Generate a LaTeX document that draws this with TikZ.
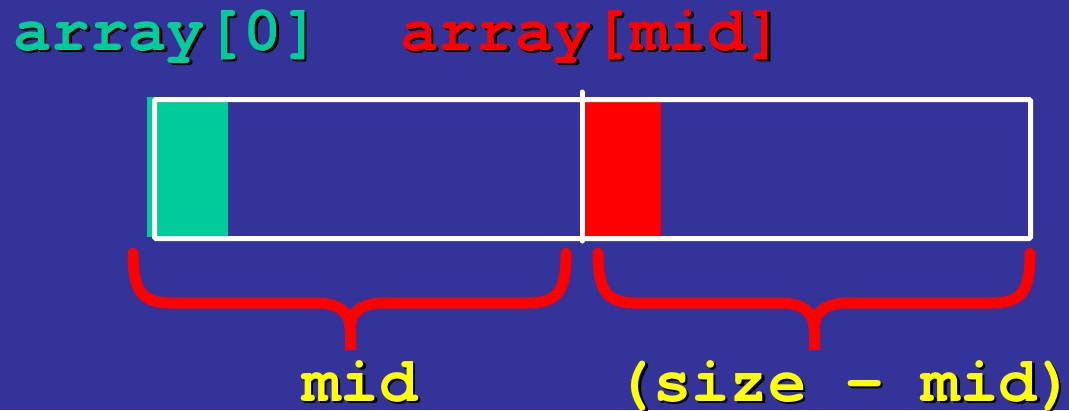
\documentclass[tikz,border=0pt]{standalone}
\usepackage{fontspec}
\newfontfamily\cursorfont{TeX Gyre Cursor}
\usetikzlibrary{positioning}
\definecolor{slate}{HTML}{333399}
\definecolor{sea}{HTML}{00CC99}
\definecolor{alarm}{HTML}{FF0000}
\definecolor{sun}{HTML}{FFFF00}
\newcommand{\shadowed}[1]{\rlap{\hspace{2.5pt}\raisebox{-2.5pt}{\color{black}#1}}#1}
\newcommand{\halfbrace}[3]{%
  \draw[bracepath] (#1,253) .. controls (#1,290) and (#1+8,303) .. (#1+38,303)
    -- (#3-33,303) .. controls (#3-12,303) and (#3,312) .. (#3,328);
  \draw[bracepath] (#2,253) .. controls (#2,290) and (#2-8,303) .. (#2-38,303)
    -- (#3+33,303) .. controls (#3+12,303) and (#3,312) .. (#3,328);
  \draw[bracepath, line cap=butt] (#3,322) -- (#3,350);
}
\tikzset{
  codetext/.style={
    font=\fontsize{64}{64}\selectfont\cursorfont\bfseries,
    inner sep=0pt,
    anchor=base
  },
  cell/.style={
    inner sep=0pt,
    anchor=north west,
    minimum height=140pt
  },
  arrayframe/.style={
    draw=white,
    line width=5pt,
    rounded corners=1.5pt,
    inner sep=0pt,
    anchor=north west
  },
  divider/.style={
    draw=white,
    line width=5pt,
    line cap=round
  },
  bracepath/.style={
    draw=alarm,
    line width=11pt,
    line cap=round,
    line join=round
  }
}

\begin{document}
\begin{tikzpicture}[x=1pt, y=-1pt]
  \fill[slate] (0,0) rectangle (1069,410);
  \useasboundingbox (0,0) rectangle (1069,410);

  % cells
  \node[cell, fill=sea, minimum width=81pt] (first) at (147,96.5) {};
  \node[cell, fill=alarm, minimum width=77pt] (middle) at (584,96.5) {};
  \node[arrayframe, minimum width=876pt, minimum height=139pt] (whole) at (152,97) {};
  \coordinate (splittop) at (582,92);
  \coordinate (splitbot) at (582,241);
  \draw[divider] (splittop) -- (splitbot);

  % labels
  \node[codetext, text=sea] (firstname) at (167,50) {\shadowed{array[0]}};
  \node[codetext, text=alarm] (midname) at (592,50) {\shadowed{array[mid]}};

  % braces
  \halfbrace{133}{566}{350}
  \halfbrace{598}{1030}{814}
  \node[codetext, text=sun] (lowcount) at (360,401) {\shadowed{mid}};
  \node[codetext, text=sun] (highcount) at (845,401) {\shadowed{(size - mid)}};
\end{tikzpicture}
\end{document}
